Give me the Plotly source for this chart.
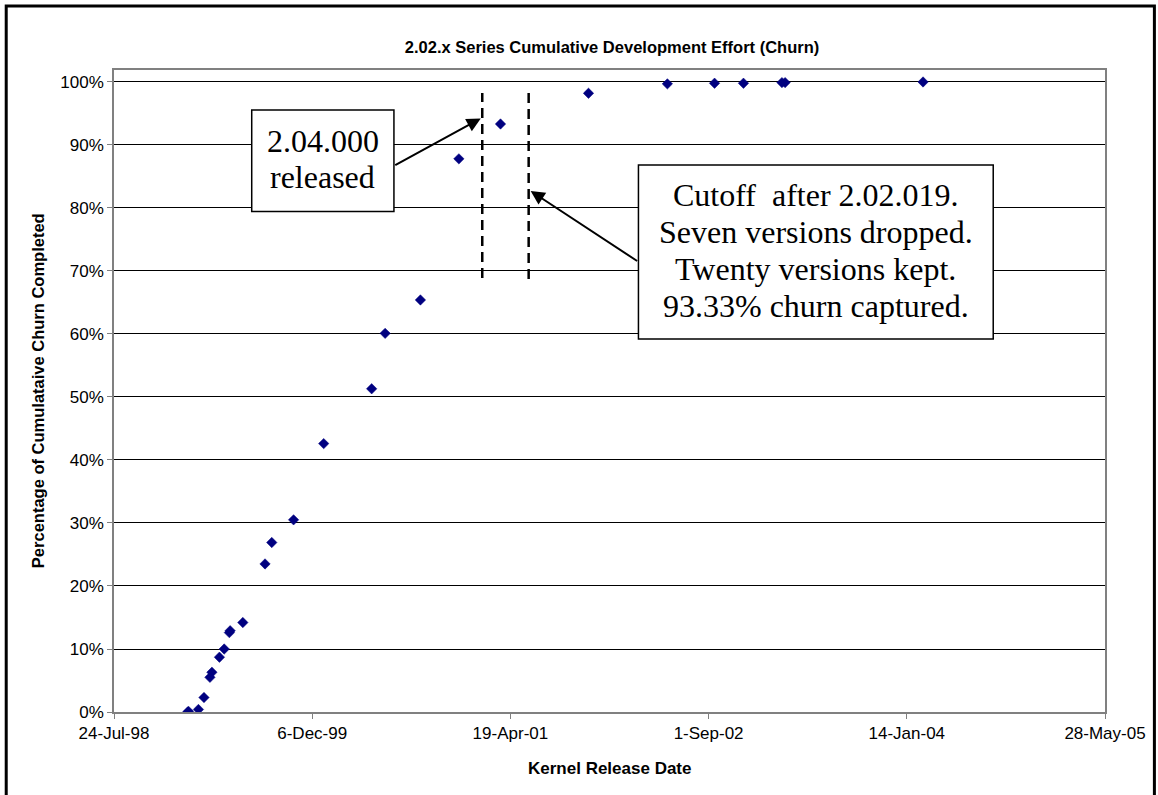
import plotly.graph_objects as go

# ---- data ----
release_dates = ["1999-01-26", "1999-01-28", "1999-02-22", "1999-03-08", "1999-03-23",
                 "1999-03-28", "1999-04-16", "1999-04-28", "1999-05-11", "1999-05-13",
                 "1999-06-14", "1999-08-09", "1999-08-26", "1999-10-20", "2000-01-04",
                 "2000-05-04", "2000-06-07", "2000-09-04", "2000-12-10", "2001-03-25",
                 "2001-11-02", "2002-05-20", "2002-09-16", "2002-11-28", "2003-03-05",
                 "2003-03-13", "2004-02-24"]
cumulative_pct = [0.0, 0.1, 0.4, 2.3, 5.5, 6.3, 8.7, 10.0, 12.6, 12.9, 14.2, 23.5, 26.9,
                  30.5, 42.6, 51.3, 60.1, 65.4, 87.8, 93.33, 98.2, 99.7, 99.8, 99.8,
                  99.9, 99.9, 100.0]
x_tick_dates = ["1998-07-24", "1999-12-06", "2001-04-19", "2002-09-01", "2004-01-14", "2005-05-28"]
x_tick_labels = ["24-Jul-98", "6-Dec-99", "19-Apr-01", "1-Sep-02", "14-Jan-04", "28-May-05"]
y_tick_vals = [0, 0.1, 0.2, 0.3, 0.4, 0.5, 0.6, 0.7, 0.8, 0.9, 1.0]

title = "2.02.x Series Cumulative Development Effort (Churn)"
x_title = "Kernel Release Date"
y_title = "Percentage of Cumulataive Churn Completed"
box1_lines = ["2.04.000", "released"]
box2_lines = ["Cutoff\u00a0 after 2.02.019.", "Seven versions dropped.",
              "Twenty versions kept.", "93.33% churn captured."]

# ---- layout helpers (pixel -> paper) ----
L, R, T, B = 114, 51, 70, 83
W, H = 1158, 795
PW, PH = W - L - R, H - T - B


def px(x):
    return (x - L) / PW


def py(y):
    return (H - B - y) / PH


fig = go.Figure()
fig.add_trace(go.Scatter(
    x=release_dates,
    y=[v / 100 for v in cumulative_pct],
    mode="markers",
    marker=dict(symbol="diamond", size=8, color="#000080",
                line=dict(width=0.5, color="#000080")),
    showlegend=False,
    hoverinfo="x+y",
))

serif = "Liberation Serif, Times New Roman, serif"
sans = "Liberation Sans, Arial, sans-serif"

shapes = [
    # outer chart border
    dict(type="rect", xref="paper", yref="paper", x0=px(6), x1=px(1156.5),
         y0=py(805), y1=py(6), line=dict(color="black", width=3), fillcolor="rgba(0,0,0,0)"),
    # dashed markers
    dict(type="line", xref="paper", yref="paper", x0=px(483), x1=px(483), y0=py(278), y1=py(93),
         line=dict(color="black", width=2.5, dash="10px,6px")),
    dict(type="line", xref="paper", yref="paper", x0=px(529.5), x1=px(529.5), y0=py(279), y1=py(91),
         line=dict(color="black", width=2.5, dash="10px,6px")),
    # text boxes
    dict(type="rect", xref="paper", yref="paper", x0=px(252), x1=px(394.5), y0=py(211.5), y1=py(110),
         line=dict(color="black", width=1.5), fillcolor="white"),
    dict(type="rect", xref="paper", yref="paper", x0=px(639.5), x1=px(995), y0=py(339), y1=py(165),
         line=dict(color="black", width=1.5), fillcolor="white"),
]

annotations = [
    dict(text="<b>" + x_title + "</b>", xref="paper", yref="paper", x=px(611), y=py(768),
         showarrow=False, xanchor="center", yanchor="middle",
         font=dict(family=sans, size=17, color="black")),
    dict(text="<b>" + y_title + "</b>", xref="paper", yref="paper", x=px(38), y=py(391),
         showarrow=False, textangle=-90, xanchor="center", yanchor="middle",
         font=dict(family=sans, size=16.5, color="black")),
    # arrows
    dict(xref="paper", yref="paper", x=px(481.5), y=py(118.5), ax=394.5 - 481.5, ay=166 - 118.5,
         axref="pixel", ayref="pixel", showarrow=True, arrowhead=2, arrowsize=1.4,
         arrowwidth=2, arrowcolor="black", text="", standoff=0),
    dict(xref="paper", yref="paper", x=px(531.5), y=py(191), ax=639.5 - 531.5, ay=262 - 191,
         axref="pixel", ayref="pixel", showarrow=True, arrowhead=2, arrowsize=1.4,
         arrowwidth=2, arrowcolor="black", text="", standoff=0),
]
for line, yc in zip(box1_lines, [141, 177]):
    annotations.append(dict(text=line, xref="paper", yref="paper", x=px(323), y=py(yc),
                            showarrow=False, xanchor="center", yanchor="middle",
                            font=dict(family=serif, size=32, color="black")))
for line, yc in zip(box2_lines, [195, 232, 269, 306]):
    annotations.append(dict(text=line, xref="paper", yref="paper", x=px(817), y=py(yc),
                            showarrow=False, xanchor="center", yanchor="middle",
                            font=dict(family=serif, size=32, color="black")))

fig.update_layout(
    width=W, height=H,
    margin=dict(l=L, r=R, t=T, b=B),
    paper_bgcolor="white", plot_bgcolor="white",
    title=dict(text="<b>" + title + "</b>", x=px(613), xref="paper", xanchor="center",
               y=1 - 47 / H, yanchor="middle", font=dict(family=sans, size=16.5, color="black")),
    xaxis=dict(type="date", range=[x_tick_dates[0], x_tick_dates[-1]],
               tickvals=x_tick_dates, ticktext=x_tick_labels,
               showgrid=False, zeroline=False, showline=True, linecolor="#808080",
               linewidth=1.5, mirror=True, ticks="outside", ticklen=5, tickcolor="#808080",
               tickfont=dict(family=sans, size=17, color="black")),
    yaxis=dict(range=[0, 1.019], tickvals=y_tick_vals, tickformat=".0%",
               showgrid=True, gridcolor="black", gridwidth=1, zeroline=False,
               showline=True, linecolor="#808080", linewidth=1.5, mirror=True,
               ticks="outside", ticklen=5, tickcolor="#808080",
               tickfont=dict(family=sans, size=17, color="black")),
    shapes=shapes,
    annotations=annotations,
)

fig.write_html("out.html")
